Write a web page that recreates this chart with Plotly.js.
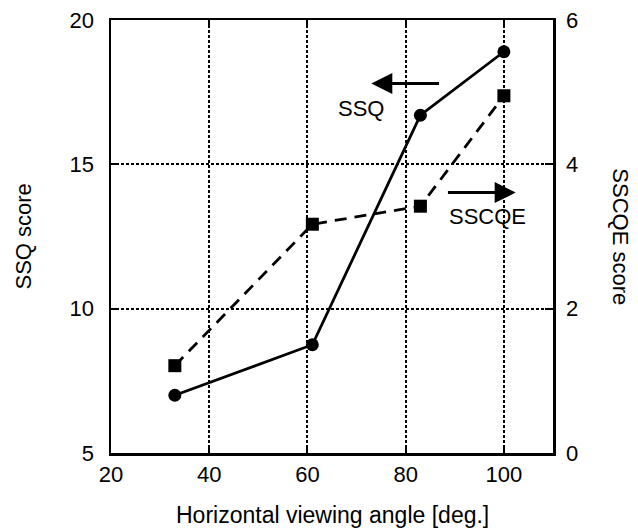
<!DOCTYPE html>
<html>
<head>
<meta charset="utf-8">
<script src="https://cdn.plot.ly/plotly-3.0.1.min.js"></script>
<style>html,body{margin:0;padding:0;background:#fff;}#chart{width:638px;height:531px;}</style>
</head>
<body>
<div id="chart"></div>
<script>
const angles = [33, 61, 83, 100];
const ssqScores = [7.0, 8.75, 16.7, 18.9];
const sscqeScores = [1.21, 3.17, 3.42, 4.95];
const xTicks = [20, 40, 60, 80, 100];
const yLeftTicks = [5, 10, 15, 20];
const yRightTicks = [0, 2, 4, 6];

const FONT = 'Arial, "Liberation Sans", sans-serif';
const FS = 22;

const traces = [
  {
    x: angles, y: ssqScores, type: 'scatter', mode: 'lines+markers',
    line: {color: '#000', width: 2.8},
    marker: {symbol: 'circle', size: 13, color: '#000'},
    xaxis: 'x', yaxis: 'y', name: 'SSQ'
  },
  {
    x: angles, y: sscqeScores, type: 'scatter', mode: 'lines+markers',
    line: {color: '#000', width: 2.8, dash: '12px,8px'},
    marker: {symbol: 'square', size: 13, color: '#000'},
    xaxis: 'x', yaxis: 'y2', name: 'SSCQE'
  }
];

const layout = {
  width: 638, height: 531,
  margin: {l: 111, r: 85, t: 20, b: 78},
  paper_bgcolor: '#fff', plot_bgcolor: '#fff',
  showlegend: false,
  font: {family: FONT, size: FS, color: '#000'},
  xaxis: {
    range: [20, 110], tickvals: xTicks, ticktext: xTicks.map(String),
    tickfont: {size: FS},
    showgrid: true, gridcolor: '#000', griddash: '3px,2px', gridwidth: 2,
    showline: true, linecolor: '#000', linewidth: 2.5, mirror: 'ticks',
    ticks: 'inside', ticklen: 6, tickwidth: 2, tickcolor: '#000',
    zeroline: false, ticklabelstandoff: 0
  },
  yaxis: {
    range: [5, 20], tickvals: yLeftTicks, ticktext: yLeftTicks.map(String),
    tickfont: {size: FS},
    showgrid: true, gridcolor: '#000', griddash: '3px,2px', gridwidth: 2,
    showline: true, linecolor: '#000', linewidth: 2.5,
    ticks: 'inside', ticklen: 6, tickwidth: 2, tickcolor: '#000',
    zeroline: false, ticklabelstandoff: 10
  },
  yaxis2: {
    range: [0, 6], tickvals: yRightTicks, ticktext: yRightTicks.map(String),
    tickfont: {size: FS},
    overlaying: 'y', side: 'right', showgrid: false,
    showline: true, linecolor: '#000', linewidth: 2.5,
    ticks: 'inside', ticklen: 8, tickwidth: 2, tickcolor: '#000',
    zeroline: false, ticklabelstandoff: 6
  },
  annotations: [
    {xref: 'paper', yref: 'paper', x: -0.199, y: 0.5, xanchor: 'center', yanchor: 'middle', text: 'SSQ score',
     textangle: -90, showarrow: false, font: {size: FS}},
    {xref: 'paper', yref: 'paper', x: 1.152, y: 0.5, xanchor: 'center', yanchor: 'middle', text: 'SSCQE score',
     textangle: 90, showarrow: false, font: {size: FS}},
    {xref: 'paper', yref: 'paper', x: 0.5, y: -0.143, xanchor: 'center', yanchor: 'middle', text: 'Horizontal viewing angle [deg.]',
     showarrow: false, font: {size: 23}},
    {x: 73.0, y: 17.8, xref: 'x', yref: 'y', ax: 87.1, ay: 17.8, axref: 'x', ayref: 'y',
     text: '', showarrow: true, arrowhead: 2, arrowsize: 1.4, arrowwidth: 3, arrowcolor: '#000'},
    {x: 102.4, y: 14.02, xref: 'x', yref: 'y', ax: 88.3, ay: 14.02, axref: 'x', ayref: 'y',
     text: '', showarrow: true, arrowhead: 2, arrowsize: 1.4, arrowwidth: 3, arrowcolor: '#000'},
    {x: 70.9, y: 16.95, xref: 'x', yref: 'y', text: 'SSQ', showarrow: false, font: {size: FS}},
    {x: 96.75, y: 13.18, xref: 'x', yref: 'y', text: 'SSCQE', showarrow: false, font: {size: FS}}
  ]
};

Plotly.newPlot('chart', traces, layout, {displayModeBar: false, staticPlot: true});
</script>
</body>
</html>
